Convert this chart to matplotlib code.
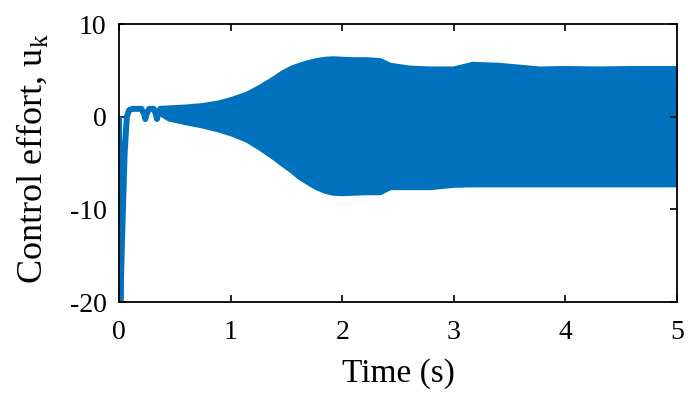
import numpy as np
import matplotlib
matplotlib.use('Agg')
import matplotlib.pyplot as plt

plt.rcParams['font.family'] = ['Liberation Serif', 'DejaVu Serif']
plt.rcParams['mathtext.fontset'] = 'custom'
plt.rcParams['mathtext.rm'] = 'Liberation Serif'
plt.rcParams['axes.unicode_minus'] = False

# start-up transient (s, control value)
t_start = [0.0, 0.012, 0.03, 0.05, 0.07, 0.09, 0.12, 0.2, 0.225, 0.236, 0.247, 0.27,
           0.31, 0.33, 0.34, 0.35, 0.37, 0.4]
u_start = [0.0, -20.0, -12.0, -4.0, 0.0, 0.7, 0.85, 0.85, 0.3, -0.25, 0.3, 0.85,
           0.85, 0.3, -0.25, 0.3, 0.8, 0.8]

# envelope of the fast oscillation
t_env = [0.37, 0.45, 0.6, 0.75, 0.9, 1.02, 1.15, 1.26, 1.37, 1.47, 1.55, 1.62,
         1.7, 1.77, 1.85, 1.92, 2.0, 2.1, 2.22, 2.34, 2.43, 2.6, 2.79, 3.0,
         3.17, 3.4, 3.77, 4.0, 4.3, 4.6, 5.0]
u_upper = [0.85, 0.9, 1.0, 1.15, 1.45, 1.85, 2.4, 3.1, 3.9, 4.7, 5.2, 5.5,
           5.8, 6.0, 6.15, 6.2, 6.15, 6.1, 6.1, 6.0, 5.5, 5.2, 5.1, 5.1,
           5.6, 5.5, 5.1, 5.15, 5.1, 5.15, 5.15]
u_lower = [0.4, -0.2, -0.6, -0.95, -1.4, -1.85, -2.5, -3.3, -4.2, -5.1, -5.8, -6.5,
           -7.1, -7.6, -8.0, -8.2, -8.25, -8.2, -8.15, -8.15, -7.6, -7.6, -7.6, -7.35,
           -7.3, -7.3, -7.3, -7.3, -7.3, -7.3, -7.3]

blue = '#0072BD'
lw = 4.3

fig = plt.figure(figsize=(6.88, 3.97), dpi=100)
ax = fig.add_axes([0.173, 0.239, 0.811, 0.7005])

ax.fill_between(t_env, u_lower, u_upper, color=blue, lw=0)
ax.plot(t_env, u_upper, color=blue, lw=lw, solid_capstyle='round', solid_joinstyle='round')
ax.plot(t_env, u_lower, color=blue, lw=lw, solid_capstyle='round', solid_joinstyle='round')
ax.plot(t_start, u_start, color=blue, lw=lw, solid_capstyle='butt', solid_joinstyle='round')

ax.set_xlim(0, 5)
ax.set_ylim(-20, 10)
ax.set_xticks([0, 1, 2, 3, 4, 5])
ax.set_yticks([-20, -10, 0, 10])

ax.tick_params(direction='in', top=True, right=True, length=5, width=1.2,
               labelsize=20)
ax.tick_params(axis='x', pad=13)
ax.tick_params(axis='y', pad=9)
for s in ax.spines.values():
    s.set_linewidth(1.3)

ax.set_xlabel('Time (s)', fontsize=24)
ax.set_ylabel(r'Control effort, u$_\mathrm{k}$', fontsize=26)
ax.xaxis.set_label_coords(0.5, -0.2)
ax.yaxis.set_label_coords(-0.156, 0.516)
ax.yaxis.label.set_verticalalignment('center')

fig.savefig('out.png', dpi=100)
